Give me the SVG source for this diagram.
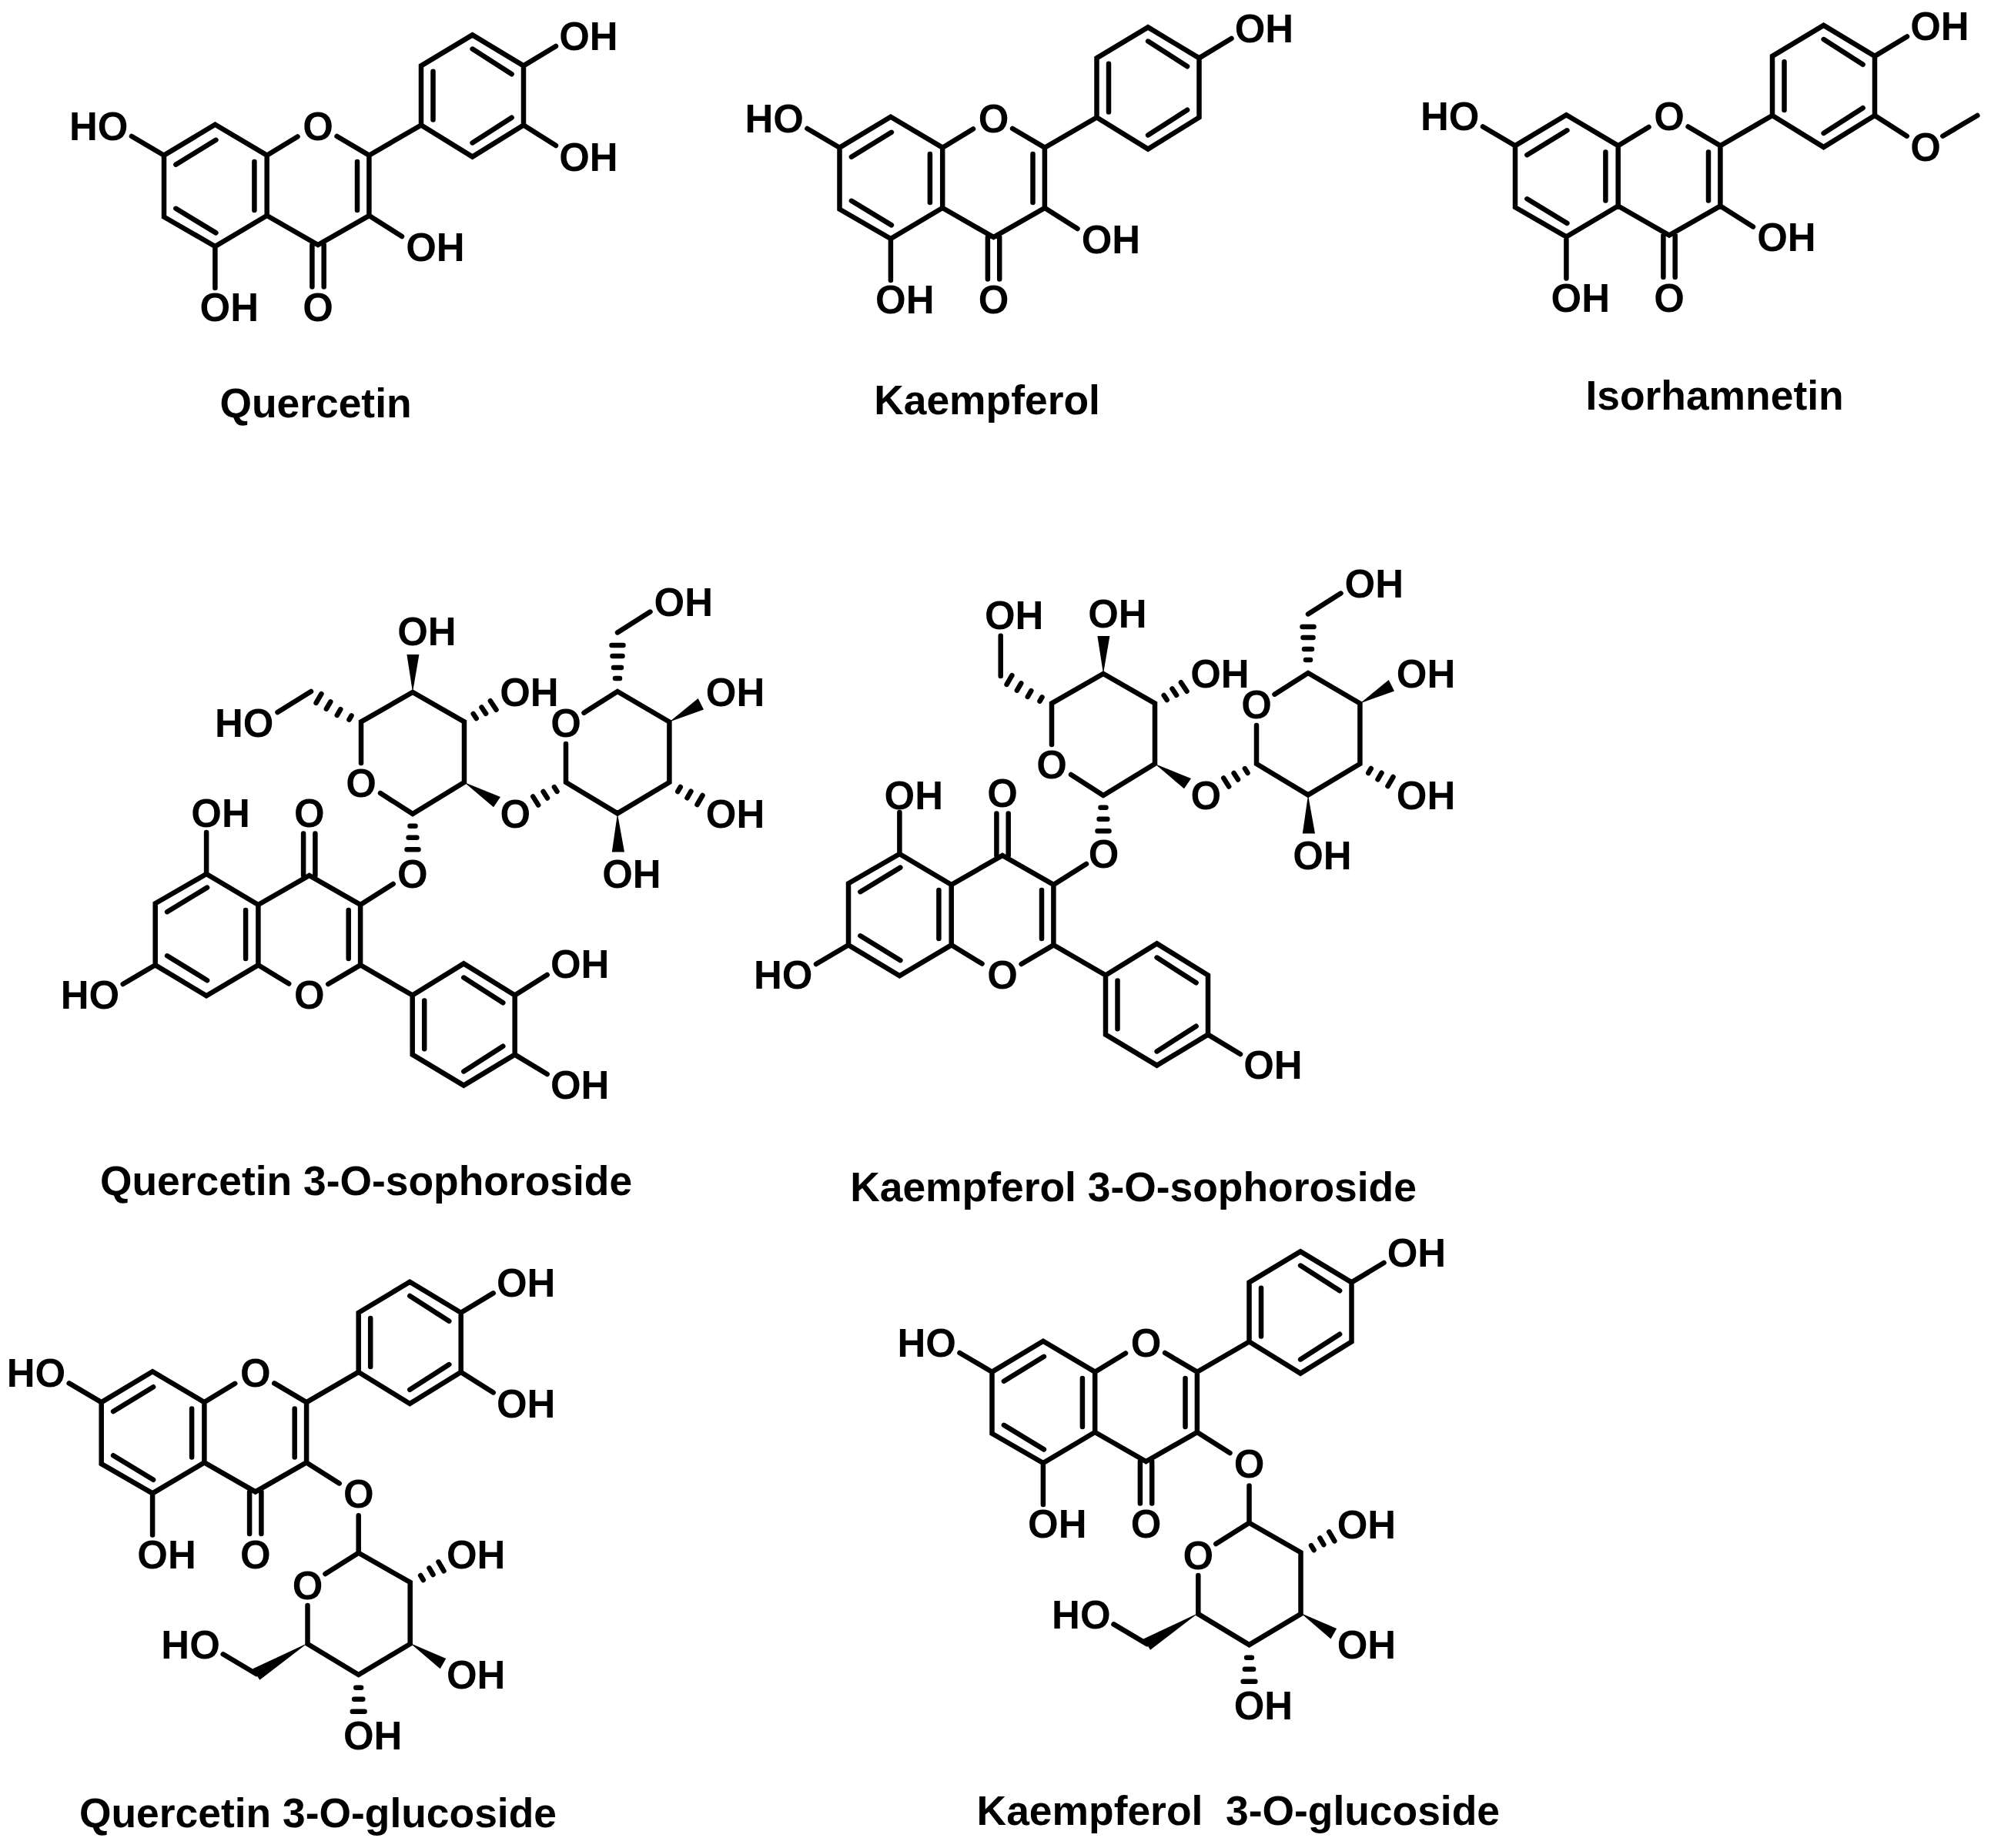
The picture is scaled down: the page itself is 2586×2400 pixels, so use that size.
<svg xmlns="http://www.w3.org/2000/svg" width="2586" height="2400" viewBox="0 0 2586 2400">
<style>
.b{fill:none;stroke:#000;stroke-width:6.5;stroke-linecap:round;stroke-linejoin:miter}
.w{fill:#000;stroke:none}
text{font-family:"Liberation Sans",Arial,sans-serif;font-weight:bold;fill:#000}
.a{font-size:51px}
.e{font-size:51px;text-anchor:end}
.t{font-size:53.4px;text-anchor:middle;white-space:pre}
</style>
<defs>
<path id="flavone" class="b" d="M279.4 161.8L213 201.7V281.7L279.4 320L346.7 280V201.7ZM346.7 201.7L386.5 177.4M437.6 177L479.4 201.7V280L413 318L346.7 280M479.4 201.7L547 162.5M547 162.5V85.4L613.6 45.4L680 85.4V162.5L613.6 203.6ZM228.4 213.7L280.4 181.8M228.4 270.8L280.4 302.4M330.4 210V273M464 210V273M562.5 92.7V155.6M613.6 63.6L664.6 96.3M613.6 185.4L664.6 152.7M213 201.7L171 177M279.4 320V374M405.4 318V372.6M420.7 318V372.6M479.4 280L522 307M680 85.4L722 60"/>
<path id="soph-common" class="b" d="M536 1057L494 1030M469 991V937.5L536 899L603 937.5V1016L536 1057M532.5 1072.7H539.5M530.6 1087.7H541.4M528.5 1103.3H543.5M614.7 926.9L618.7 933.1M625.5 918.5L631.1 926.9M636.9 910.3L644.5 921.7M453.5 934.6L456.5 929.4M437.8 928.9L442.3 921.1M423.9 920.7L429.3 911.3M410.6 912.9L417.4 901.1M719.9 1022.1L723.5 1027.9M705.6 1028L711 1036.6M692.2 1034.4L699.2 1045.6M735 966V1016L802 1056.4L869.4 1016V937.5L802 898L758.5 925.7M799 881H805M797 867H807M795.5 852H808.5M794.5 838H809.5M802 821.4L844.5 794.6M880.2 1028L883.8 1022M892.5 1036.3L897.5 1027.7M905.5 1045L912.5 1033"/>
<path id="soph-wedges" class="w" d="M536 899L528.4 850H544.4ZM603 1016L650 1035L641 1048.3ZM869.4 937.5L906.7 907L914 921.4ZM802 1056.4L794.8 1106.4H811Z"/>
<path id="gluc-bonds" class="b" d="M465.7 1968.3V2016.7L422.5 2044M399.5 2085V2135L465.7 2175L532.7 2135V2055L465.7 2016.7M333 2174L289.7 2148.3M546.2 2046L549.8 2052M557.5 2036.4L562.5 2045M569.5 2028.3L576.5 2040.3M462.3 2191.7H469.1M460.1 2206.7H471.3M457.8 2222.7H473.6"/>
<path id="gluc-wedges" class="w" d="M399.5 2134L328.3 2167.3L337.3 2181.7ZM532.7 2134L579.3 2154L571.7 2167.3Z"/>
</defs>

<g id="quercetin">
<use href="#flavone"/>
<path class="b" d="M680 162.5L722 189"/>
<text class="e" x="166.5" y="181.9">HO</text><text class="a" x="393.2" y="181.9">O</text><text class="a" x="393.2" y="417.3">O</text><text class="a" x="259.6" y="417.3">OH</text><text class="a" x="527.2" y="338.9">OH</text><text class="a" x="726.2" y="64.8">OH</text><text class="a" x="726.2" y="221.9">OH</text>
<text class="t" x="410" y="541.5">Quercetin</text>
</g>

<g id="kaempferol" transform="translate(877.5,-10)">
<use href="#flavone"/>
<text class="e" x="166.5" y="181.9">HO</text><text class="a" x="393.2" y="181.9">O</text><text class="a" x="393.2" y="417.3">O</text><text class="a" x="259.6" y="417.3">OH</text><text class="a" x="527.2" y="338.9">OH</text><text class="a" x="726.2" y="64.8">OH</text>
<text class="t" x="404.5" y="548.3">Kaempferol</text>
</g>

<g id="isorhamnetin" transform="translate(1755,-12.5)">
<use href="#flavone"/>
<path class="b" d="M680 162.5L721.7 189.2M768.3 189.2L813.3 162.5"/>
<text class="e" x="166.5" y="181.9">HO</text><text class="a" x="393.2" y="181.9">O</text><text class="a" x="393.2" y="417.3">O</text><text class="a" x="259.6" y="417.3">OH</text><text class="a" x="527.2" y="338.9">OH</text><text class="a" x="726.2" y="64.8">OH</text><text class="a" x="726.2" y="221.9">O</text>
<text class="t" x="472" y="544">Isorhamnetin</text>
</g>

<g id="quercetin-3-o-sophoroside" transform="translate(-11.3,1455)">
<use href="#flavone" transform="scale(1,-1)"/>
<path class="b" d="M680 -162.5L722 -189"/>
<text class="e" x="166.5" y="-145.3">HO</text><text class="a" x="393.2" y="-145.3">O</text><text class="a" x="393.2" y="-380.7">O</text><text class="a" x="259.6" y="-380.7">OH</text><text class="a" x="527.2" y="-302.3">O</text><text class="a" x="726.2" y="-28.2">OH</text><text class="a" x="726.2" y="-185.3">OH</text>
</g>
<g id="quercetin-sophorose">
<use href="#soph-common"/><use href="#soph-wedges"/>
<path class="b" d="M404 898L360.5 925"/>
<text class="a" x="516.2" y="837.8">OH</text><text class="a" x="649.2" y="917.3">OH</text><text class="e" x="355.4" y="957.3">HO</text><text class="a" x="449.2" y="1035.3">O</text><text class="a" x="649.6" y="1075.3">O</text><text class="a" x="715.2" y="957">O</text><text class="a" x="849.6" y="800.3">OH</text><text class="a" x="916.8" y="917.3">OH</text><text class="a" x="916.8" y="1074.7">OH</text><text class="a" x="782.2" y="1153.3">OH</text>
<text class="t" x="475.5" y="1552">Quercetin 3-O-sophoroside</text>
</g>

<g id="kaempferol-3-o-sophoroside" transform="translate(889,1429)">
<use href="#flavone" transform="scale(1,-1)"/>
<text class="e" x="166.5" y="-145.3">HO</text><text class="a" x="393.2" y="-145.3">O</text><text class="a" x="393.2" y="-380.7">O</text><text class="a" x="259.6" y="-378.2">OH</text><text class="a" x="524.7" y="-302.3">O</text><text class="a" x="726.2" y="-28.2">OH</text>
</g>
<g id="kaempferol-sophorose" transform="translate(897,-24)">
<use href="#soph-common"/><use href="#soph-wedges"/>
<path class="b" d="M402.7 902V849.7"/>
<text class="a" x="516.2" y="839.3">OH</text><text class="a" x="649.2" y="917.3">OH</text><text class="a" x="381.9" y="840.9">OH</text><text class="a" x="449.2" y="1035.3">O</text><text class="a" x="649.6" y="1075.3">O</text><text class="a" x="715.2" y="957">O</text><text class="a" x="849.6" y="800.3">OH</text><text class="a" x="916.8" y="917.3">OH</text><text class="a" x="916.8" y="1074.7">OH</text><text class="a" x="782.2" y="1153.3">OH</text>
<text class="t" x="575" y="1584">Kaempferol 3-O-sophoroside</text>
</g>

<g id="quercetin-3-o-glucoside" transform="translate(-81.3,1619.4)">
<use href="#flavone"/>
<path class="b" d="M680 162.5L722 189"/>
<text class="e" x="166.5" y="181.9">HO</text><text class="a" x="393.2" y="181.9">O</text><text class="a" x="393.2" y="417.3">O</text><text class="a" x="259.6" y="417.3">OH</text><text class="a" x="527.2" y="338.9">O</text><text class="a" x="726.2" y="64.8">OH</text><text class="a" x="726.2" y="221.9">OH</text>
</g>
<g id="quercetin-glucose">
<use href="#gluc-bonds"/><use href="#gluc-wedges"/>
<text class="e" x="285.8" y="2154.3">HO</text><text class="a" x="379.7" y="2076.6">O</text><text class="a" x="579.9" y="2037.3">OH</text><text class="a" x="579.9" y="2193.3">OH</text><text class="a" x="445.9" y="2271.6">OH</text>
<text class="t" x="413" y="2373">Quercetin 3-O-glucoside</text>
</g>

<g id="kaempferol-3-o-glucoside" transform="translate(1075.5,1580)">
<use href="#flavone"/>
<text class="e" x="166.5" y="181.9">HO</text><text class="a" x="393.2" y="181.9">O</text><text class="a" x="393.2" y="417.3">O</text><text class="a" x="259.6" y="417.3">OH</text><text class="a" x="527.2" y="338.9">O</text><text class="a" x="726.2" y="64.8">OH</text>
</g>
<g id="kaempferol-glucose" transform="translate(1156.8,-38.9)">
<use href="#gluc-bonds"/><use href="#gluc-wedges"/>
<text class="e" x="285.8" y="2154.3">HO</text><text class="a" x="379.7" y="2076.6">O</text><text class="a" x="579.9" y="2037.3">OH</text><text class="a" x="579.9" y="2193.3">OH</text><text class="a" x="445.9" y="2271.6">OH</text>
<text class="t" x="451.5" y="2408.5">Kaempferol  3-O-glucoside</text>
</g>
</svg>
